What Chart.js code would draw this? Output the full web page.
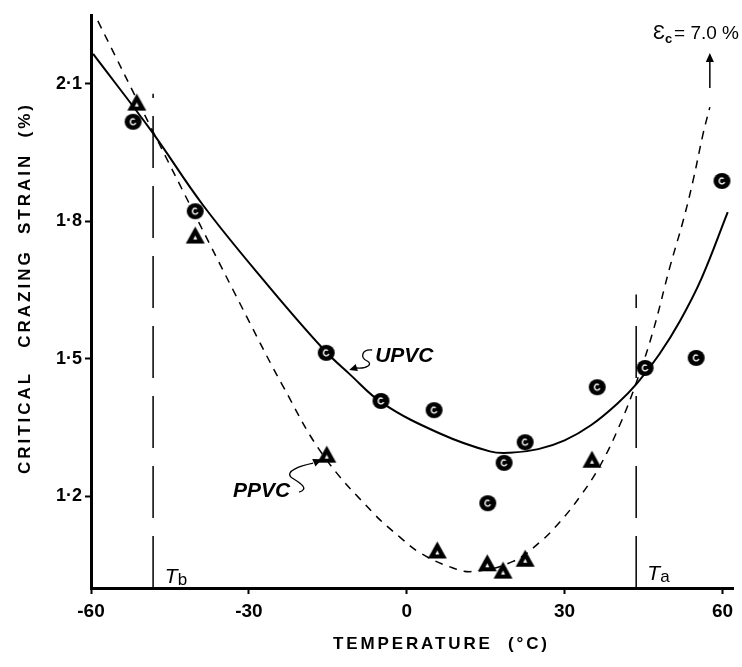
<!DOCTYPE html>
<html>
<head>
<meta charset="utf-8">
<script src="https://cdn.jsdelivr.net/npm/chart.js@4.4.1/dist/chart.umd.min.js"></script>
<style>
  html, body { margin: 0; padding: 0; background: #fff; }
</style>
</head>
<body>
<canvas id="myChart" width="742" height="667"></canvas>
<script>
/** Data **/
// measured points, UPVC (circles)
const upvcTemp = [-52.0, -40.2, -15.3, -4.9, 5.2, 15.4, 18.5, 22.5, 36.2, 45.3, 55.0, 59.9];
const upvcStrain = [2.017, 1.822, 1.513, 1.408, 1.388, 1.185, 1.273, 1.318, 1.438, 1.48, 1.502, 1.888];

// measured points, PPVC (triangles)
const ppvcTemp = [-51.3, -40.2, -15.2, 5.8, 15.3, 18.3, 22.5, 35.2];
const ppvcStrain = [2.06, 1.77, 1.292, 1.083, 1.055, 1.039, 1.065, 1.281];

// hand drawn fit curves
const upvcCurveTemp = [-59.6, -48.4, -38.7, -26.5, -15.9, -10.8, -4.7, 6.3, 15.8, 19.6, 25.0, 30.0, 35.0, 40.0, 43.8, 48.0, 51.9, 56.0, 61.0];
const upvcCurveStrain = [2.165, 1.995, 1.835, 1.662, 1.522, 1.466, 1.404, 1.337, 1.298, 1.295, 1.303, 1.322, 1.355, 1.402, 1.447, 1.51, 1.582, 1.675, 1.82];

const ppvcCurveTemp = [-58.7, -48.4, -29.8, -23.5, -15.9, -6.4, -1.3, 2.5, 8.2, 12.6, 20.2, 25.3, 29.1, 32.9, 36.7, 40.5, 43.8, 46.8, 50.0, 52.5, 54.4, 56.3, 57.6];
const ppvcCurveStrain = [2.237, 2.0, 1.578, 1.44, 1.29, 1.164, 1.111, 1.077, 1.046, 1.036, 1.058, 1.1, 1.144, 1.199, 1.266, 1.356, 1.454, 1.56, 1.7, 1.8, 1.888, 1.99, 2.049];

// transition temperatures (vertical dashed lines)
const tbTemp = -48.2, tbTop = 2.078;
const taTemp = 43.6, taTop = 1.64;

// tick labels
const xTicks = [-60, -30, 0, 30, 60];
const yTicks = [1.2, 1.5, 1.8, 2.1];

/** Helpers **/
function toPoints(xs, ys) {
  return xs.map((x, i) => ({ x: x, y: ys[i] }));
}

//  Black disc with a small white curl, like the printed circles
function makeCircleMarker() {
  const c = document.createElement("canvas");
  c.width = 19;
  c.height = 18;
  const g = c.getContext("2d");
  g.fillStyle = "#000";
  g.beginPath();
  g.ellipse(9.5, 9, 8.5, 8, 0, 0, 2 * Math.PI);
  g.fill();
  g.strokeStyle = "#fff";
  g.lineWidth = 1.4;
  g.beginPath();
  g.arc(9.5, 9, 2.8, 0.4, 1.7 * Math.PI);
  g.stroke();
  return c;
}

//  Black triangle with a small white notch
function makeTriangleMarker() {
  const c = document.createElement("canvas");
  c.width = 21;
  c.height = 19;
  const g = c.getContext("2d");
  g.fillStyle = "#000";
  g.beginPath();
  g.moveTo(10.5, 1);
  g.lineTo(20, 18);
  g.lineTo(1, 18);
  g.closePath();
  g.fill();
  g.fillStyle = "#fff";
  g.beginPath();
  g.moveTo(10.5, 10);
  g.lineTo(12.5, 14);
  g.lineTo(8.5, 14);
  g.closePath();
  g.fill();
  return c;
}

const SANS = "'Liberation Sans', Arial, sans-serif";

//  Draw text with letter spacing stretched to a given width
function drawSpaced(ctx, text, left, baseline, width) {
  ctx.letterSpacing = "0px";
  const w = ctx.measureText(text).width;
  const sp = (width - w) / (text.length - 1);
  ctx.letterSpacing = sp + "px";
  ctx.textAlign = "left";
  ctx.fillText(text, left, baseline);
  ctx.letterSpacing = "0px";
}

function arrowHead(ctx, x, y, angle, size) {
  ctx.save();
  ctx.translate(x, y);
  ctx.rotate(angle);
  ctx.beginPath();
  ctx.moveTo(0, 0);
  ctx.lineTo(-size, -size * 0.45);
  ctx.lineTo(-size, size * 0.45);
  ctx.closePath();
  ctx.fill();
  ctx.restore();
}

/** Plugin for the labels, leaders and axis titles **/
const notes = {
  id: "notes",
  afterDraw(chart) {
    const ctx = chart.ctx;
    const xs = chart.scales.x;
    const ys = chart.scales.y;
    const px = (v) => xs.getPixelForValue(v);
    const py = (v) => ys.getPixelForValue(v);
    ctx.save();
    ctx.fillStyle = "#000";
    ctx.strokeStyle = "#000";
    ctx.textBaseline = "alphabetic";

    //  Axis titles
    ctx.font = "bold 17px " + SANS;
    ctx.save();
    ctx.translate(30, 474);
    ctx.rotate(-Math.PI / 2);
    drawSpaced(ctx, "CRITICAL   CRAZING  STRAIN  (%)", 0, 0, 369);
    ctx.restore();
    ctx.font = "bold 17px " + SANS;
    drawSpaced(ctx, "TEMPERATURE  (°C)", 333, 649, 214);

    //  Curve names
    ctx.font = "italic bold 21px " + SANS;
    ctx.textAlign = "left";
    let ux = px(-6.0), uy = py(1.493);
    ctx.fillText("UPVC", ux, uy);
    let pxv = px(-33.0), pyv = py(1.198);
    ctx.fillText("PPVC", pxv, pyv);

    //  Squiggly leaders
    ctx.lineWidth = 1.3;
    ctx.beginPath();
    ctx.moveTo(ux - 3, uy - 12);
    ctx.bezierCurveTo(ux - 14, uy - 13, ux - 15, uy - 4, ux - 8, uy - 1);
    ctx.bezierCurveTo(ux - 2, uy + 2, ux - 8, uy + 7, ux - 19, uy + 6);
    ctx.stroke();
    arrowHead(ctx, ux - 26, uy + 8, Math.PI * 0.9, 8);

    ctx.beginPath();
    ctx.moveTo(pxv + 66, pyv - 5);
    ctx.bezierCurveTo(pxv + 78, pyv - 9, pxv + 64, pyv - 16, pxv + 58, pyv - 20);
    ctx.bezierCurveTo(pxv + 52, pyv - 26, pxv + 66, pyv - 31, pxv + 80, pyv - 34);
    ctx.stroke();
    arrowHead(ctx, pxv + 89, pyv - 38, -Math.PI * 0.13, 9);

    //  Transition temperature labels
    ctx.font = "italic 21px " + SANS;
    ctx.fillText("T", px(-46.0), py(1.011));
    ctx.font = "17px " + SANS;
    ctx.fillText("b", px(-46.0) + 13, py(1.011) + 2);
    ctx.font = "italic 21px " + SANS;
    ctx.fillText("T", px(45.7), py(1.017));
    ctx.font = "17px " + SANS;
    ctx.fillText("a", px(45.7) + 13, py(1.017) + 2);

    //  Off-scale note for PPVC
    let ex = px(46.8), ey = py(2.198);
    ctx.font = "20px 'Liberation Sans', 'DejaVu Sans', sans-serif";
    ctx.fillText("Ɛ", ex, ey);
    ctx.font = "bold 13px " + SANS;
    ctx.fillText("c", ex + 12, ey + 4);
    ctx.font = "19px " + SANS;
    ctx.fillText("= 7.0 %", ex + 21, ey);

    let ax = px(57.6);
    ctx.lineWidth = 1.5;
    ctx.beginPath();
    ctx.moveTo(ax, py(2.091));
    ctx.lineTo(ax, py(2.155));
    ctx.stroke();
    arrowHead(ctx, ax, py(2.167), -Math.PI / 2, 9);

    ctx.restore();
  },
};

/** Chart **/
const ctx = document.getElementById("myChart");

let myChart = new Chart(ctx, {
  type: "scatter",
  data: {
    datasets: [
      {
        label: "UPVC data",
        data: toPoints(upvcTemp, upvcStrain),
        pointStyle: makeCircleMarker(),
      },
      {
        label: "PPVC data",
        data: toPoints(ppvcTemp, ppvcStrain),
        pointStyle: makeTriangleMarker(),
      },
      {
        label: "UPVC",
        data: toPoints(upvcCurveTemp, upvcCurveStrain),
        showLine: true,
        borderColor: "#000",
        borderWidth: 2,
        pointRadius: 0,
        tension: 0.4,
      },
      {
        label: "PPVC",
        data: toPoints(ppvcCurveTemp, ppvcCurveStrain),
        showLine: true,
        borderColor: "#000",
        borderWidth: 1.5,
        borderDash: [8, 7],
        pointRadius: 0,
        tension: 0.4,
      },
      {
        label: "Tb",
        data: toPoints([tbTemp, tbTemp], [1.0, tbTop]),
        showLine: true,
        borderColor: "#000",
        borderWidth: 1.5,
        borderDash: [52, 18],
        pointRadius: 0,
      },
      {
        label: "Ta",
        data: toPoints([taTemp, taTemp], [1.0, taTop]),
        showLine: true,
        borderColor: "#000",
        borderWidth: 1.5,
        borderDash: [52, 18],
        pointRadius: 0,
      },
    ],
  },
  options: {
    responsive: false,
    animation: false,
    devicePixelRatio: 1,
    layout: { padding: { top: 15, right: 9, left: 0, bottom: 0 } },
    plugins: {
      legend: { display: false },
      tooltip: { enabled: false },
    },
    scales: {
      x: {
        type: "linear",
        min: -60,
        max: 62,
        afterBuildTicks: (s) => {
          s.ticks = xTicks.map((v) => ({ value: v }));
        },
        afterFit: (s) => {
          s.height = 79;
        },
        ticks: {
          color: "#000",
          padding: 6,
          autoSkip: false,
          maxRotation: 0,
          font: { family: SANS, size: 19, weight: "bold" },
          callback: (v) => String(v),
        },
        grid: {
          drawOnChartArea: false,
          tickLength: 6,
          tickWidth: 2,
          tickColor: "#000",
        },
        border: { color: "#000", width: 3 },
      },
      y: {
        type: "linear",
        min: 1.0,
        max: 2.25,
        afterBuildTicks: (s) => {
          s.ticks = yTicks.map((v) => ({ value: v }));
        },
        afterFit: (s) => {
          s.width = 91;
        },
        ticks: {
          color: "#000",
          padding: 3,
          autoSkip: false,
          font: { family: SANS, size: 18, weight: "bold" },
          callback: (v) => v.toFixed(1).replace(".", "·"),
        },
        grid: {
          drawOnChartArea: false,
          tickLength: 6,
          tickWidth: 2,
          tickColor: "#000",
        },
        border: { color: "#000", width: 3 },
      },
    },
  },
  plugins: [notes],
});
</script>
</body>
</html>
